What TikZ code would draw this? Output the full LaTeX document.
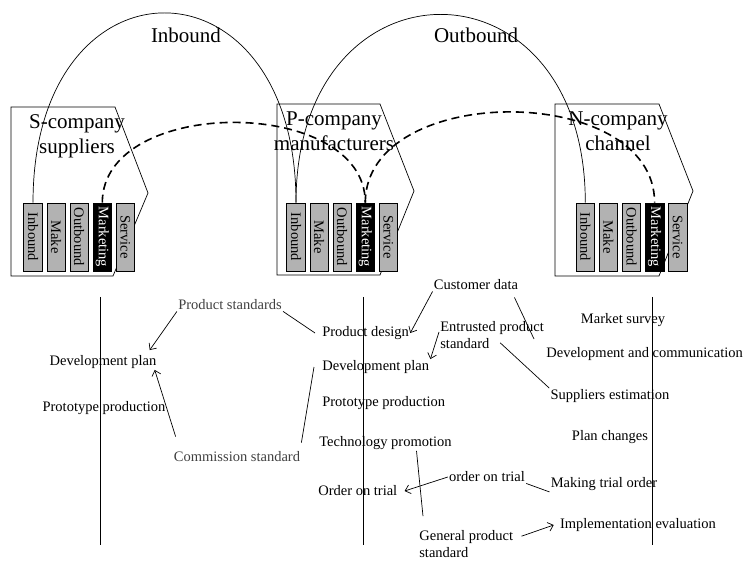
\documentclass[tikz,border=0pt]{standalone}
\usepackage{fontspec}
\setmainfont{Liberation Serif}
\usetikzlibrary{arrows.meta}

\tikzset{
  bar/.style={draw, fill=gray!60, rotate=-90, minimum width=68pt, minimum height=18.5pt, inner sep=0pt, font=\fontsize{14.5}{16}\selectfont},
  darkbar/.style={bar, fill=black, text=white},
  title/.style={align=center, font=\fontsize{21}{25}\selectfont, inner sep=0pt},
  lbl/.style={inner sep=1pt, font=\fontsize{14.5}{16.7}\selectfont},
  glbl/.style={lbl, text=black!75},
  dasharc/.style={line width=1.6pt, dash pattern=on 8pt off 5pt},
}

\begin{document}
\begin{tikzpicture}[x=1pt,y=-1pt,line width=0.7pt,>={Straight Barb[length=5pt,width=9pt]}]
			\useasboundingbox (0,0) rectangle (744,561);
			\draw (11,107)--(115,107)--(148,193)--(113,276)--(11,276)--cycle;
			\draw (277,104)--(380,104)--(414,191)--(380,275)--(277,275)--cycle;
			\draw (555,104)--(659,104)--(693,191)--(659,276)--(555,276)--cycle;
			\node[title] (Stitle) at (77,136) {S-company\\suppliers};
			\node[title] (Ptitle) at (334,131) {P-company\\manufacturers};
			\node[title] (Ntitle) at (618,131) {N-company\\channel};
			\foreach \lab/\sty [count=\i] in {Inbound/bar,Make/bar,Outbound/bar,Marketing/darkbar,Service/bar}{
				\node[\sty] (S\i) at ({33+23.1*(\i-1)},237) {\lab};
				\node[\sty] (P\i) at ({296+23.1*(\i-1)},237) {\lab};
				\node[\sty] (N\i) at ({585.3+23.1*(\i-1)},237) {\lab};
			}
			\draw (S1.west) .. controls +(0,-253) and +(0,-253) .. (P1.west);
			\draw (P1.west) .. controls +(0,-251) and +(0,-251) .. (N1.west);
			\draw[dasharc] (S4.west) .. controls +(0,-107) and +(0,-107) .. (P4.west);
			\draw[dasharc] (P4.west) .. controls +(0,-121) and +(0,-121) .. (N4.west);
			\node[title] (inb) at (186,35) {Inbound};
			\node[title] (outb) at (476,35) {Outbound};
			\coordinate (Sa) at (100,297);
			\coordinate (Sb) at (100,545);
			\coordinate (Pa) at (363,297);
			\coordinate (Pb) at (363,545);
			\coordinate (Na) at (652,297);
			\coordinate (Nb) at (652,545);
			\draw (Sa)--(Sb);
			\draw (Pa)--(Pb);
			\draw (Na)--(Nb);
			\node[glbl] (prodstd) at (230,305) {Product standards};
			\node[lbl] (devplanS) at (103,362) {Development plan};
			\node[lbl] (protoS) at (104,408) {Prototype production};
			\node[glbl] (commstd) at (237,457) {Commission standard};
			\node[lbl,anchor=west] (prodesign) at (321,333) {Product design};
			\node[lbl,anchor=west] (devplanP) at (321,367) {Development plan};
			\node[lbl,anchor=west] (protoP) at (321,403) {Prototype production};
			\node[lbl,anchor=west] (techprom) at (318,443) {Technology promotion};
			\node[lbl,anchor=west] (ordertrialP) at (317,491) {Order on trial};
			\node[lbl] (custdata) at (476,285) {Customer data};
			\node[lbl,anchor=west,align=left] (entrusted) at (439,335) {Entrusted product\\standard};
			\node[lbl] (supest) at (610,396) {Suppliers estimation};
			\node[lbl] (ordertrial) at (487,477) {order on trial};
			\node[lbl] (mktrial) at (604,484) {Making trial order};
			\node[lbl,anchor=west,align=left] (genstd) at (418,544) {General product\\standard};
			\node[lbl] (impleval) at (638,525) {Implementation evaluation};
			\node[lbl] (mktsurvey) at (623,320) {Market survey};
			\node[lbl,anchor=west] (devcomm) at (545,354) {Development and communication};
			\node[lbl] (planchg) at (610,437) {Plan changes};
			\draw[->] (prodstd.south west) -- ([xshift=-8pt,yshift=4pt]devplanS.north east);
			\draw (prodstd.south east) -- ([xshift=-6pt]prodesign.west);
			\draw[->] ([shift={(3pt,14pt)}]commstd.north west) -- ([xshift=-3pt]devplanS.south east);
			\draw ([yshift=8pt]commstd.north east) -- ([xshift=-7pt]devplanP.west);
			\draw[->] (custdata.south west) -- (prodesign.east);
			\draw ([shift={(-5pt,-6pt)}]custdata.south east) -- ([shift={(-11pt,15pt)}]devcomm.west);
			\draw[->] ([yshift=3pt]entrusted.west) -- (devplanP.north east);
			\draw ([shift={(-45pt,7pt)}]entrusted.south east) -- (supest.north west);
			\draw ([xshift=31pt]techprom.south) -- ([shift={(5pt,13pt)}]genstd.north west);
			\draw[->] (ordertrial.west) -- ([xshift=6pt]ordertrialP.east);
			\draw (ordertrial.south east) -- (mktrial.south west);
			\draw[->] ([shift={(7pt,-7pt)}]genstd.north east) -- ([xshift=-5pt]impleval.west);
		\end{tikzpicture}
\end{document}
